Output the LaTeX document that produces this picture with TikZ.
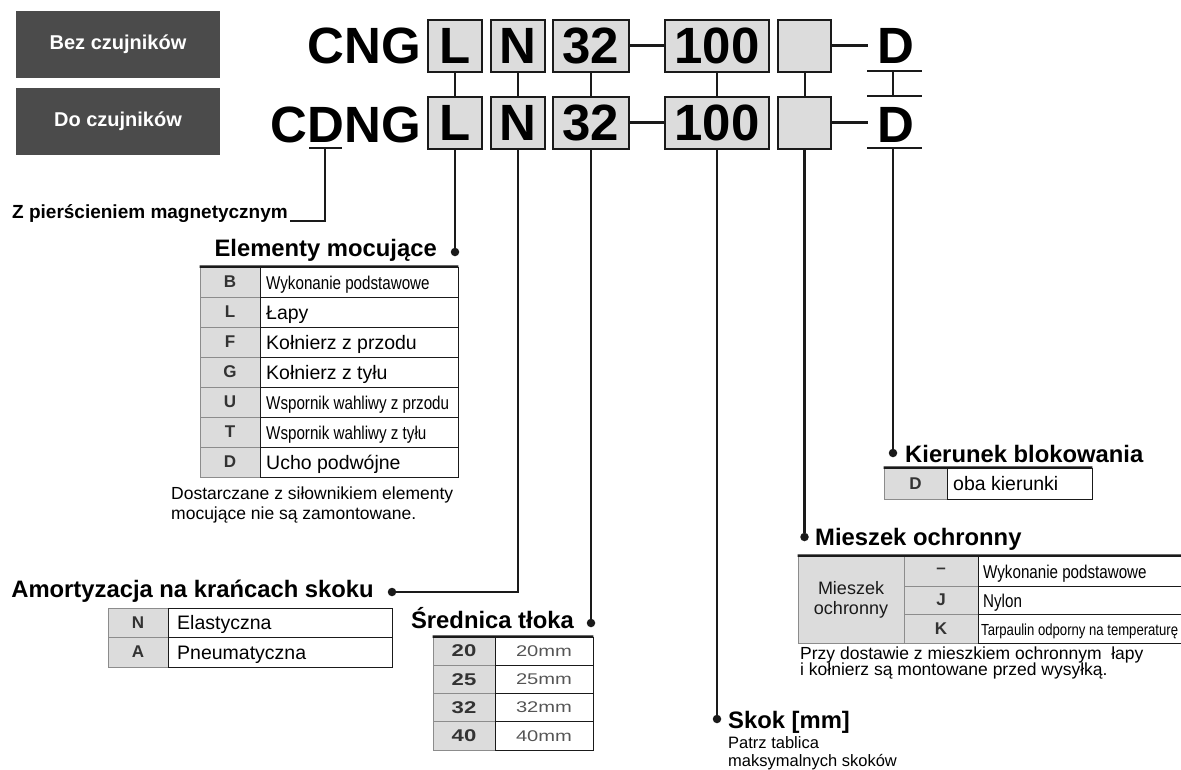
\documentclass[tikz,border=0pt]{standalone}
\usepackage{fontspec}
\setmainfont{Liberation Sans}
\newfontfamily\narrowfont[FakeStretch=0.82]{Liberation Sans}
\definecolor{hdrgray}{HTML}{4B4B4B}
\definecolor{boxgray}{HTML}{DCDCDC}
\definecolor{cellgray}{HTML}{DCDCDC}
\definecolor{linegray}{HTML}{8C8C8C}
\definecolor{ink}{HTML}{1A1A1A}
\definecolor{codeink}{HTML}{333333}
\definecolor{mmgray}{HTML}{555555}
\newcommand\widen[1]{\scalebox{1.3}[1]{#1}}
\begin{document}
\begin{tikzpicture}[x=1pt,y=-1pt,
  hdr/.style={fill=hdrgray, text=white, font=\fontsize{20}{24}\selectfont\bfseries, minimum width=204pt, minimum height=67pt, inner sep=0pt, text height=14.5pt, text depth=4pt},
  big/.style={font=\fontsize{51}{51}\selectfont\bfseries, inner sep=0pt, text=black},
  cbox/.style={big, draw=ink, line width=2pt, fill=boxgray, minimum height=52pt, text height=36.5pt, text depth=0pt},
  conn/.style={draw=ink, line width=2.4pt},
  link/.style={draw=ink, line width=2pt},
  dotn/.style={circle, fill=ink, inner sep=0pt, minimum size=8.5pt},
  head/.style={font=\fontsize{23.8}{26}\selectfont\bfseries, inner sep=0pt},
  subhead/.style={font=\fontsize{19}{22}\selectfont\bfseries, inner sep=0pt},
  note/.style={font=\fontsize{17.5}{20}\selectfont, inner sep=0pt},
  codec/.style={draw=linegray, fill=cellgray, line width=0.8pt, inner sep=0pt, font=\fontsize{17}{17}\selectfont\bfseries, text=codeink},
  txtc/.style={draw=ink, line width=0.9pt, inner sep=0pt},
  ct/.style={font=\fontsize{19.5}{20}\selectfont, inner sep=0pt},
  ctn/.style={font=\narrowfont\fontsize{18.5}{20}\selectfont, inner sep=0pt},
  ctns/.style={font=\narrowfont\fontsize{16}{18}\selectfont, inner sep=0pt},
  mm/.style={font=\fontsize{15.5}{16}\selectfont, text=mmgray, inner sep=0pt},
  topline/.style={draw=ink, line width=2.5pt}
]
\useasboundingbox (0,0) rectangle (1181,769);

% header boxes
\node[hdr] (bez) at (118,44.5) {Bez czujników};
\node[hdr] (do) at (118,121) {Do czujników};

% code row 1
\node[big, anchor=base east] (cng) at (421,63.5) {CNG};
\node[cbox, minimum width=54pt] (L1) at (455,45.5) {L};
\node[cbox, minimum width=54pt] (N1) at (518,45.5) {N};
\node[cbox, minimum width=76pt] (S1) at (591,45.5) {32};
\node[cbox, minimum width=104pt] (H1) at (717,45.5) {100};
\node[cbox, minimum width=53pt] (E1) at (804.5,45.5) {};
\node[big, anchor=base west] (D1) at (877,63.5) {D};
\coordinate (dash1) at (868,45.5);

% code row 2
\node[big, anchor=base east] (cdng) at (421,142) {CDNG};
\node[cbox, minimum width=54pt] (L2) at (455,122.5) {L};
\node[cbox, minimum width=54pt] (N2) at (518,122.5) {N};
\node[cbox, minimum width=76pt] (S2) at (591,122.5) {32};
\node[cbox, minimum width=104pt] (H2) at (717,122.5) {100};
\node[cbox, minimum width=53pt] (E2) at (804.5,122.5) {};
\node[big, anchor=base west] (D2) at (877,142) {D};
\coordinate (dash2) at (868,122.5);

% dashes
\draw[conn] (S1.east) -- (H1.west);
\draw[conn] (E1.east) -- (dash1);
\draw[conn] (S2.east) -- (H2.west);
\draw[conn] (E2.east) -- (dash2);

% links between rows
\draw[link] (L1.south) -- (L2.north);
\draw[link] (N1.south) -- (N2.north);
\draw[link] (S1.south) -- (S2.north);
\draw[link] (H1.south) -- (H2.north);
\draw[link] (E1.south) -- (E2.north);

% D bars
\coordinate (b1l) at (867,71); \coordinate (b1r) at (922,71); \coordinate (b1m) at (893,71);
\coordinate (b2l) at (867,96); \coordinate (b2r) at (922,96); \coordinate (b2m) at (893,96);
\coordinate (b3l) at (867,148); \coordinate (b3r) at (922,148); \coordinate (b3m) at (893,148);
\draw[conn] (b1l) -- (b1r);
\draw[conn] (b2l) -- (b2r);
\draw[link] (b1m) -- (b2m);
\draw[conn] (b3l) -- (b3r);

% CDNG D underline
\coordinate (ul) at (309,148); \coordinate (ur) at (342,148); \coordinate (um) at (325,148);
\coordinate (zpend) at (290,221);
\draw[conn] (ul) -- (ur);
\draw[conn] (um) |- (zpend);
\node[subhead, anchor=base east] (zph) at (288,218) {Z pierścieniem magnetycznym};

% headings and dots
\node[head, anchor=base east] (emh) at (437,256) {Elementy mocujące};
\node[dotn] (emdot) at (455,252) {};
\draw[conn] (L2.south) -- (emdot);

\node[head, anchor=base east] (amh) at (374,597) {Amortyzacja na krańcach skoku};
\node[dotn] (amdot) at (392,592) {};
\draw[conn] (N2.south) |- (amdot);

\node[head, anchor=base east] (srh) at (574,628) {Średnica tłoka};
\node[dotn] (srdot) at (591,623) {};
\draw[conn] (S2.south) -- (srdot);

\node[head, anchor=base west] (skh) at (728,728) {Skok [mm]};
\node[dotn] (skdot) at (717,719) {};
\draw[conn] (H2.south) -- (skdot);

\node[head, anchor=base west] (msh) at (815,545) {Mieszek ochronny};
\node[dotn] (msdot) at (804.5,537) {};
\draw[conn] (E2.south) -- (msdot);

\node[head, anchor=base west] (kbh) at (905,462) {Kierunek blokowania};
\node[dotn] (kbdot) at (893,453) {};
\draw[conn] (b3m) -- (kbdot);

% Elementy mocujace table
\node[codec, minimum width=60pt, minimum height=30pt] (emc1) at (230,282) {B};
\node[txtc, minimum width=198pt, minimum height=30pt] (emt1) at (359,282) {};
\node[ctn, anchor=base west] (emx1) at (266,289) {Wykonanie podstawowe};
\node[codec, minimum width=60pt, minimum height=30pt] (emc2) at (230,312) {L};
\node[txtc, minimum width=198pt, minimum height=30pt] (emt2) at (359,312) {};
\node[ct, anchor=base west] (emx2) at (266,319) {Łapy};
\node[codec, minimum width=60pt, minimum height=30pt] (emc3) at (230,342) {F};
\node[txtc, minimum width=198pt, minimum height=30pt] (emt3) at (359,342) {};
\node[ct, anchor=base west] (emx3) at (266,349) {Kołnierz z przodu};
\node[codec, minimum width=60pt, minimum height=30pt] (emc4) at (230,372) {G};
\node[txtc, minimum width=198pt, minimum height=30pt] (emt4) at (359,372) {};
\node[ct, anchor=base west] (emx4) at (266,379) {Kołnierz z tyłu};
\node[codec, minimum width=60pt, minimum height=30pt] (emc5) at (230,402) {U};
\node[txtc, minimum width=198pt, minimum height=30pt] (emt5) at (359,402) {};
\node[ctn, anchor=base west] (emx5) at (266,409) {Wspornik wahliwy z przodu};
\node[codec, minimum width=60pt, minimum height=30pt] (emc6) at (230,432) {T};
\node[txtc, minimum width=198pt, minimum height=30pt] (emt6) at (359,432) {};
\node[ctn, anchor=base west] (emx6) at (266,439) {Wspornik wahliwy z tyłu};
\node[codec, minimum width=60pt, minimum height=30pt] (emc7) at (230,462) {D};
\node[txtc, minimum width=198pt, minimum height=30pt] (emt7) at (359,462) {};
\node[ct, anchor=base west] (emx7) at (266,469) {Ucho podwójne};
\draw[topline] (emc1.north west) -- (emt1.north east);
\node[note, anchor=base west] (emn1) at (171,499) {Dostarczane z siłownikiem elementy};
\node[note, anchor=base west] (emn2) at (171,519) {mocujące nie są zamontowane.};

% Amortyzacja table
\node[codec, minimum width=60pt, minimum height=29pt] (amc1) at (138,622.5) {N};
\node[txtc, minimum width=224pt, minimum height=29pt] (amt1) at (280,622.5) {};
\node[ct, anchor=base west] (amx1) at (177,629.5) {Elastyczna};
\node[codec, minimum width=60pt, minimum height=30pt] (amc2) at (138,652) {A};
\node[txtc, minimum width=224pt, minimum height=30pt] (amt2) at (280,652) {};
\node[ct, anchor=base west] (amx2) at (177,659) {Pneumatyczna};

% Srednica table
\node[codec, minimum width=62pt, minimum height=28.25pt] (src1) at (464,651.1) {\widen{20}};
\node[txtc, minimum width=98pt, minimum height=28.25pt] (srt1) at (544,651.1) {};
\node[mm] (srx1) at (544,651.1) {\widen{20mm}};
\node[codec, minimum width=62pt, minimum height=28.25pt] (src2) at (464,679.4) {\widen{25}};
\node[txtc, minimum width=98pt, minimum height=28.25pt] (srt2) at (544,679.4) {};
\node[mm] (srx2) at (544,679.4) {\widen{25mm}};
\node[codec, minimum width=62pt, minimum height=28.25pt] (src3) at (464,707.6) {\widen{32}};
\node[txtc, minimum width=98pt, minimum height=28.25pt] (srt3) at (544,707.6) {};
\node[mm] (srx3) at (544,707.6) {\widen{32mm}};
\node[codec, minimum width=62pt, minimum height=28.25pt] (src4) at (464,735.9) {\widen{40}};
\node[txtc, minimum width=98pt, minimum height=28.25pt] (srt4) at (544,735.9) {};
\node[mm] (srx4) at (544,735.9) {\widen{40mm}};
\draw[topline] (src1.north west) -- (srt1.north east);

% Kierunek table
\node[codec, minimum width=63pt, minimum height=31pt] (kbc1) at (915.5,483.5) {D};
\node[txtc, minimum width=145pt, minimum height=31pt] (kbt1) at (1019.5,483.5) {};
\node[ct, anchor=base west] (kbx1) at (953,490.5) {oba kierunki};
\draw[topline] (kbc1.north west) -- (kbt1.north east);

% Mieszek table
\node[codec, font=\fontsize{18}{20}\selectfont, text=ink, align=center, minimum width=106pt, minimum height=87pt] (msc0) at (851,599.5) {Mieszek\\ochronny};
\node[codec, minimum width=74pt, minimum height=30pt] (msc1) at (941,571) {--};
\node[txtc, minimum width=203pt, minimum height=30pt] (mst1) at (1079.5,571) {};
\node[ctn, anchor=base west] (msx1) at (983,578) {Wykonanie podstawowe};
\node[codec, minimum width=74pt, minimum height=28pt] (msc2) at (941,600) {J};
\node[txtc, minimum width=203pt, minimum height=28pt] (mst2) at (1079.5,600) {};
\node[ctn, anchor=base west] (msx2) at (983,607) {Nylon};
\node[codec, minimum width=74pt, minimum height=29pt] (msc3) at (941,628.5) {K};
\node[txtc, minimum width=203pt, minimum height=29pt] (mst3) at (1079.5,628.5) {};
\node[ctns, anchor=base west] (msx3) at (981,635) {Tarpaulin odporny na temperaturę};
\draw[topline] (msc0.north west) -- (mst1.north east);
\node[note, anchor=base west] (msn1) at (800,659) {Przy dostawie z mieszkiem ochronnym\ \ łapy};
\node[note, anchor=base west] (msn2) at (800,675) {i kołnierz są montowane przed wysyłką.};

% Skok note
\node[note, font=\fontsize{16.5}{18}\selectfont, anchor=base west] (skn1) at (728,748) {Patrz tablica};
\node[note, font=\fontsize{16.5}{18}\selectfont, anchor=base west] (skn2) at (728,766) {maksymalnych skoków};
\end{tikzpicture}
\end{document}
